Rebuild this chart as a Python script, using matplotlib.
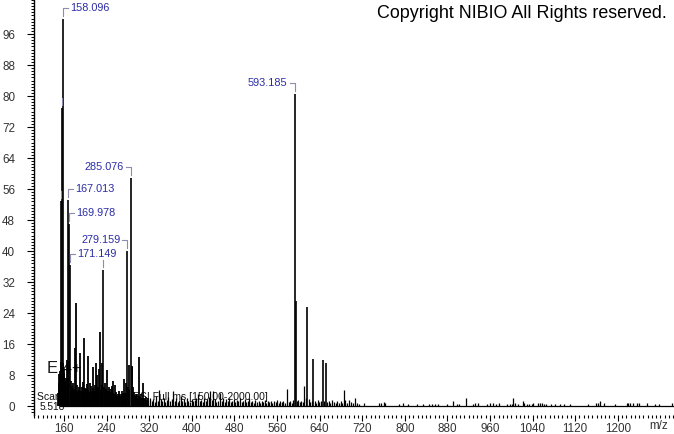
import numpy as np
import matplotlib
matplotlib.use("Agg")
import matplotlib.pyplot as plt
from matplotlib.ticker import MultipleLocator, FixedLocator
from matplotlib.transforms import IdentityTransform

plt.rcParams['font.family'] = ['Liberation Sans', 'DejaVu Sans']

# labelled / large peaks (m/z, relative intensity)
major_mz = [155.1, 156.6, 158.096, 167.013, 169.978, 171.149, 233.8,
            279.159, 285.076, 593.185, 595.0, 617.0, 628.0, 645.8, 651.4]
major_int = [53, 77, 100, 53.2, 47, 36.5, 35, 40, 58.8, 80.5, 27, 25.5,
             12.2, 11.9, 11.2]

# peaks that get a text label
label_mz = ["158.096", "167.013", "169.978", "171.149", "279.159", "285.076", "593.185"]
label_side = ["right", "right", "right", "right", "left", "left", "left"]
# peaks with an (unlabelled) bracket only
bracket_only_mz = [155.1, 156.6, 233.8]

x_ticks = [160, 240, 320, 400, 480, 560, 640, 720, 800, 880, 960, 1040, 1120, 1200]
y_ticks = [0, 8, 16, 24, 32, 40, 48, 56, 64, 72, 80, 88, 96]

# dense low-level peaks 148-318
noise_a_mz = [148.8, 149.9, 151.0, 152.1, 153.3, 154.2, 157.3, 159.1, 160.6, 161.9,
              163.0, 164.3, 165.5, 166.3, 168.4, 172.5, 173.6, 174.8, 176.3, 177.5,
              178.7, 180.0, 181.0, 182.5, 183.9, 185.1, 186.3, 187.5, 188.8, 190.0,
              191.3, 192.9, 194.2, 195.5, 196.6, 197.6, 198.9, 200.1, 201.2, 202.5,
              203.6, 204.5, 205.9, 207.2, 208.8, 210.0, 211.3, 212.6, 213.8, 215.0,
              216.3, 217.5, 218.6, 219.5, 220.5, 221.4, 222.8, 224.1, 226.0, 227.6,
              229.1, 230.8, 232.3, 235.2, 236.9, 238.1, 239.4, 241.3, 242.7, 244.0,
              245.4, 246.8, 248.1, 249.3, 250.1, 251.3, 252.6, 254.0, 255.8, 257.2,
              258.6, 260.0, 261.4, 262.6, 264.0, 265.4, 266.8, 268.2, 269.5, 270.9,
              272.2, 273.3, 274.6, 276.0, 277.3, 280.6, 282.0, 283.0, 286.8, 288.0,
              289.3, 290.4, 291.7, 293.1, 294.5, 295.9, 297.3, 298.7, 300.1, 301.5,
              303.0, 304.6, 306.1, 307.6, 309.1, 310.7, 312.2, 313.8, 315.3, 316.9]
noise_a_int = [3.5, 8.2, 6.0, 7.5, 9.0, 11.5, 11.2, 9.5, 8.6, 6.5,
               5.0, 7.2, 4.5, 12.0, 9.0, 6.5, 4.0, 5.2, 6.0, 3.8,
               4.5, 3.2, 15.0, 26.5, 5.5, 4.0, 3.6, 5.0, 4.2, 13.8,
               4.0, 5.0, 3.5, 4.8, 6.2, 17.7, 4.6, 3.2, 4.5, 3.6,
               5.6, 13.0, 4.2, 3.5, 6.0, 4.0, 5.2, 3.4, 4.6, 10.0,
               3.8, 5.4, 4.0, 11.0, 4.5, 8.0, 3.6, 5.0, 9.5, 19.0,
               4.2, 11.0, 5.5, 4.8, 6.0, 3.4, 4.4, 9.3, 3.8, 5.0,
               3.2, 4.5, 3.6, 5.2, 4.7, 3.4, 6.5, 3.0, 5.5, 2.8,
               3.6, 2.6, 3.2, 4.0, 2.5, 3.0, 2.4, 4.0, 3.2, 2.6,
               3.4, 7.0, 2.8, 6.0, 3.5, 5.0, 10.5, 4.2, 10.3, 10.0,
               3.6, 5.0, 2.8, 2.2, 3.0, 2.4, 3.0, 2.0, 2.6, 12.7,
               2.4, 3.0, 2.0, 1.8, 5.9, 2.2, 1.6, 2.4, 1.5, 2.0]

# sparser low-level peaks 318-580
noise_b_mz = [318.5, 321.4, 324.6, 327.3, 330.5, 333.2, 336.0, 339.0, 341.8, 344.6,
              347.5, 350.3, 353.2, 356.1, 359.0, 361.9, 365.0, 367.8, 370.6, 373.4,
              376.3, 379.2, 382.1, 385.0, 388.0, 390.8, 393.7, 396.6, 399.5, 402.4,
              405.3, 408.2, 411.8, 414.6, 417.5, 420.4, 423.3, 426.2, 429.1, 432.0,
              435.0, 437.8, 440.4, 443.4, 446.3, 449.2, 452.9, 455.8, 458.7, 461.6,
              464.5, 467.4, 470.3, 473.2, 476.1, 479.0, 481.9, 484.8, 487.7, 490.6,
              493.5, 496.4, 499.3, 502.2, 505.1, 508.0, 510.9, 513.8, 516.7, 519.6,
              522.5, 525.4, 528.3, 531.2, 534.1, 537.0, 539.9, 542.8, 545.7, 548.6,
              551.5, 554.4, 557.3, 560.2, 563.1, 566.0, 568.9, 571.8, 574.7, 579.0]
noise_b_int = [1.6, 2.2, 1.2, 1.8, 1.0, 2.5, 1.4, 4.2, 1.8, 1.2,
               2.0, 1.0, 1.6, 2.4, 1.2, 1.8, 3.9, 1.4, 2.0, 1.0,
               1.6, 2.6, 1.2, 1.8, 1.0, 2.2, 1.4, 1.0, 1.8, 1.2,
               1.6, 2.0, 3.0, 1.2, 1.6, 1.0, 2.2, 1.4, 1.8, 2.4,
               3.9, 1.6, 3.9, 1.8, 1.0, 1.4, 3.5, 1.2, 2.0, 1.0,
               1.8, 1.2, 2.2, 1.0, 1.4, 1.8, 1.0, 1.6, 1.2, 2.0,
               1.0, 1.4, 1.8, 1.0, 1.2, 2.0, 1.0, 1.4, 0.8, 1.6,
               1.0, 1.2, 0.8, 1.4, 1.0, 1.6, 0.8, 1.2, 1.0, 1.4,
               0.8, 1.2, 1.0, 1.6, 0.8, 1.4, 1.0, 1.2, 0.8, 4.4]

# peaks 580-1305
noise_c_mz = [582.5, 585.3, 588.0, 590.5, 597.5, 600.2, 603.0, 606.0, 608.5, 611.3,
              614.0, 620.0, 622.5, 625.0, 631.0, 634.0, 636.5, 639.0, 642.0, 648.5,
              654.0, 657.0, 660.0, 663.5, 667.0, 670.0, 673.5, 677.0, 680.0, 683.0,
              686.4, 688.3, 692.0, 695.8, 699.0, 702.2, 707.0, 709.7, 713.4, 723.4,
              752.2, 754.7, 761.0, 762.8, 789.7, 797.3, 806.6, 822.3, 834.8, 846.0,
              850.5, 856.7, 863.0, 880.0, 890.0, 898.7, 902.4, 915.0, 928.7, 931.8,
              936.8, 953.8, 960.0, 966.3, 971.3, 977.5, 991.4, 997.6, 1000.8, 1003.7,
              1006.9, 1013.2, 1021.4, 1023.9, 1028.9, 1033.9, 1038.3, 1041.4, 1050.8, 1053.9,
              1057.1, 1061.4, 1065.2, 1074.0, 1082.0, 1091.5, 1099.0, 1110.2, 1144.7, 1159.0,
              1162.2, 1166.6, 1174.7, 1194.8, 1216.7, 1219.8, 1223.0, 1229.0, 1235.5, 1240.5,
              1254.3, 1270.0, 1278.0, 1301.2]
noise_c_int = [1.0, 1.4, 0.8, 1.6, 1.2, 1.7, 1.0, 1.4, 1.0, 5.3,
               2.0, 1.8, 1.0, 1.4, 1.2, 0.9, 1.6, 1.0, 1.3, 1.2,
               1.0, 1.4, 0.8, 1.6, 1.1, 0.8, 1.2, 0.9, 1.4, 0.8,
               4.1, 1.7, 0.9, 1.5, 1.0, 0.9, 2.0, 0.9, 0.6, 0.8,
               0.7, 0.7, 1.0, 0.8, 0.6, 0.8, 0.6, 0.6, 0.6, 0.6,
               0.6, 0.6, 0.6, 0.6, 1.3, 0.6, 0.6, 2.0, 0.6, 0.7,
               0.9, 0.6, 0.8, 0.7, 0.6, 0.7, 0.6, 0.6, 0.6, 2.0,
               0.9, 0.6, 1.3, 0.7, 0.6, 0.6, 0.6, 0.7, 0.8, 0.8,
               0.8, 0.6, 0.6, 0.6, 0.6, 0.6, 0.6, 0.6, 0.6, 0.8,
               0.9, 1.3, 0.7, 0.6, 0.8, 0.8, 0.8, 0.8, 0.8, 0.8,
               0.8, 0.6, 0.6, 0.9]

# axes layout (pixels of the 674x434 picture)
W, H = 674, 434
fig = plt.figure(figsize=(W / 100, H / 100), dpi=100)
ax = fig.add_axes([34 / W, 19 / H, 640 / W, 415 / H])
ax.set_xlim(103.7, 1305.5)
ax.set_ylim(-2.3, 104.8)

for s in ["top", "right", "bottom"]:
    ax.spines[s].set_visible(False)
ax.spines["left"].set_linewidth(1.0)

ax.xaxis.set_major_locator(FixedLocator(x_ticks))
ax.xaxis.set_minor_locator(MultipleLocator(8))
ax.yaxis.set_major_locator(FixedLocator(y_ticks))
ax.yaxis.set_minor_locator(MultipleLocator(0.8))
ax.tick_params(axis="x", which="major", length=4, width=0.8, pad=2,
               labelsize=8.4, labelcolor="#333333")
ax.tick_params(axis="x", which="minor", length=2, width=0.8)
ax.tick_params(axis="y", which="major", length=5, width=0.8, pad=8.5,
               labelsize=8.4, labelcolor="#333333")
ax.tick_params(axis="y", which="minor", length=2.5, width=0.7)

# text behind the spectrum
ax.text(0.0205, 0.113, "E 4+", transform=ax.transAxes, fontsize=12,
        color="#1a1a1a", va="center", ha="left", zorder=1)
ax.text(0.005, 0.044, "Scan 1-1  FTMS + p ESI Full ms [150.00-2000.00]",
        transform=ax.transAxes, fontsize=7.5, color="#111111",
        va="center", ha="left", zorder=1)
ax.text(0.008, 0.02, "5.518", transform=ax.transAxes, fontsize=7.3,
        color="#111111", va="center", ha="left", zorder=1)

# spectrum
ax.hlines(0, 150, 1305.5, color="black", lw=0.9, zorder=2)
ax.vlines(noise_a_mz, 0, noise_a_int, color="black", lw=1.3, zorder=2)
ax.vlines(noise_b_mz, 0, noise_b_int, color="black", lw=0.9, zorder=2)
ax.vlines(noise_c_mz, 0, noise_c_int, color="black", lw=0.9, zorder=2)
ax.vlines(major_mz, 0, major_int, color="black", lw=1.2, zorder=3)

# peak brackets and labels (display pixels)
bracket_color = "#8c8cb0"
label_color = "#2b2ba6"
ident = IdentityTransform()
peak_lookup = dict(zip(major_mz, major_int))
for txt, side in zip(label_mz, label_side):
    mz = float(txt)
    px, py = ax.transData.transform((mz, peak_lookup[mz]))
    sgn = 1 if side == "right" else -1
    ax.add_line(plt.Line2D([px, px, px + sgn * 5], [py + 3, py + 11, py + 11],
                           transform=ident, color=bracket_color, lw=0.8, zorder=4))
    ax.text(px + sgn * 7, py + 11, txt, transform=ident, fontsize=7.8,
            color=label_color, ha="left" if side == "right" else "right",
            va="center", zorder=4)
for mz in bracket_only_mz:
    px, py = ax.transData.transform((mz, peak_lookup[mz]))
    ax.add_line(plt.Line2D([px, px], [py + 3, py + 10], transform=ident,
                           color=bracket_color, lw=0.8, zorder=4))

fig.text(659 / W, 1 - 426 / H, "m/z", fontsize=8.4, color="#333333",
         ha="center", va="center")
fig.text(667 / W, 1 - 14 / H, "Copyright NIBIO All Rights reserved.",
         fontsize=12.9, color="black", ha="right", va="center")

fig.savefig("out.png", dpi=100)
